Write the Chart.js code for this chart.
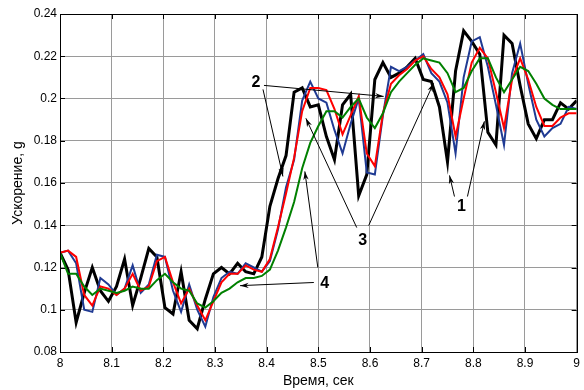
<!DOCTYPE html>
<html>
<head>
<meta charset="utf-8">
<script src="https://cdn.jsdelivr.net/npm/chart.js@4"></script>
<style>
  html, body { margin: 0; padding: 0; background: #fff; }
  #wrap { width: 584px; height: 390px; }
</style>
</head>
<body>
<div id="wrap"><canvas id="accelChart" width="584" height="390"></canvas></div>
<script>
// sampling: 64 Hz, from 8 to 9 s
const startTime = 8;
const sampleRate = 64;

const curve1 = [0.127, 0.119, 0.094, 0.108, 0.120, 0.109, 0.104, 0.111, 0.124, 0.102, 0.115, 0.129, 0.125,
  0.101, 0.098, 0.118, 0.095, 0.091, 0.105, 0.117, 0.120, 0.117, 0.122, 0.118, 0.117, 0.125, 0.149, 0.162,
  0.173, 0.203, 0.205, 0.196, 0.197, 0.182, 0.171, 0.197, 0.202, 0.154, 0.164, 0.209, 0.217, 0.210, 0.212,
  0.215, 0.219, 0.209, 0.208, 0.196, 0.170, 0.213, 0.232, 0.227, 0.221, 0.184, 0.178, 0.230, 0.226, 0.206,
  0.188, 0.181, 0.190, 0.190, 0.198, 0.195, 0.199];

const curveBlue = [0.127, 0.128, 0.122, 0.100, 0.099, 0.115, 0.112, 0.107, 0.110, 0.121, 0.108, 0.112, 0.126,
  0.125, 0.109, 0.099, 0.112, 0.100, 0.092, 0.106, 0.115, 0.118, 0.117, 0.122, 0.120, 0.118, 0.123, 0.138,
  0.158, 0.171, 0.199, 0.208, 0.200, 0.198, 0.185, 0.174, 0.188, 0.200, 0.165, 0.164, 0.192, 0.215, 0.213,
  0.215, 0.218, 0.221, 0.212, 0.208, 0.198, 0.174, 0.210, 0.227, 0.229, 0.215, 0.197, 0.178, 0.212, 0.226,
  0.207, 0.190, 0.182, 0.186, 0.188, 0.196, 0.195];

const curveRed = [0.127, 0.128, 0.125, 0.107, 0.102, 0.111, 0.110, 0.107, 0.110, 0.117, 0.109, 0.111, 0.123,
  0.125, 0.113, 0.103, 0.110, 0.102, 0.095, 0.104, 0.113, 0.117, 0.117, 0.121, 0.119, 0.118, 0.124, 0.139,
  0.155, 0.172, 0.194, 0.205, 0.205, 0.204, 0.195, 0.183, 0.192, 0.201, 0.174, 0.168, 0.193, 0.207, 0.211,
  0.214, 0.218, 0.220, 0.214, 0.210, 0.202, 0.182, 0.200, 0.217, 0.224, 0.219, 0.203, 0.186, 0.209, 0.219,
  0.209, 0.196, 0.187, 0.187, 0.191, 0.193, 0.193];

const curveGreen = [0.127, 0.117, 0.117, 0.111, 0.107, 0.110, 0.109, 0.108, 0.109, 0.111, 0.110, 0.110, 0.114,
  0.117, 0.113, 0.110, 0.109, 0.103, 0.101, 0.104, 0.108, 0.110, 0.113, 0.115, 0.115, 0.116, 0.119, 0.128,
  0.139, 0.151, 0.167, 0.179, 0.187, 0.194, 0.194, 0.191, 0.196, 0.200, 0.191, 0.186, 0.193, 0.203, 0.208,
  0.212, 0.216, 0.219, 0.218, 0.217, 0.212, 0.203, 0.205, 0.213, 0.219, 0.219, 0.210, 0.203, 0.209, 0.215,
  0.213, 0.207, 0.200, 0.197, 0.195, 0.195, 0.195];

const xTicks = [8, 8.1, 8.2, 8.3, 8.4, 8.5, 8.6, 8.7, 8.8, 8.9, 9];
const yTicks = [0.08, 0.1, 0.12, 0.14, 0.16, 0.18, 0.2, 0.22, 0.24];

// numbered callouts: label position and arrows (tail -> head), in data units
const callouts = [
  { text: '1', at: [8.777, 0.1489], arrows: [[8.7635, 0.1536, 8.7539, 0.1636], [8.7886, 0.1536, 8.8214, 0.1892]] },
  { text: '2', at: [8.3793, 0.2076], arrows: [[8.3948, 0.2062, 8.6264, 0.2010], [8.3929, 0.2043, 8.4315, 0.1631]] },
  { text: '3', at: [8.5859, 0.1327], arrows: [[8.5743, 0.1389, 8.4759, 0.1906], [8.5975, 0.1399, 8.7230, 0.2072]] },
  { text: '4', at: [8.5125, 0.1124], arrows: [[8.4913, 0.1129, 8.3485, 0.1114], [8.4990, 0.1200, 8.4739, 0.1655]] }
];

const toPoints = (vals) => vals.map((v, i) => ({ x: startTime + i / sampleRate, y: v }));

const lineSet = (vals, color, width) => ({
  data: toPoints(vals),
  borderColor: color,
  borderWidth: width,
  pointRadius: 0,
  tension: 0,
  fill: false
});

const frameAndCallouts = {
  id: 'frameAndCallouts',
  afterDatasetsDraw(chart) {
    const { ctx, chartArea: a, scales } = chart;
    const xs = scales.x, ys = scales.y;
    ctx.save();
    // box + inward ticks
    ctx.strokeStyle = '#000';
    ctx.lineWidth = 1;
    ctx.strokeRect(Math.round(a.left) + 0.5, Math.round(a.top) + 0.5,
      Math.round(a.right - a.left), Math.round(a.bottom - a.top));
    ctx.beginPath();
    xTicks.forEach(t => {
      const px = Math.round(xs.getPixelForValue(t)) + 0.5;
      ctx.moveTo(px, a.bottom); ctx.lineTo(px, a.bottom - 5);
      ctx.moveTo(px, a.top); ctx.lineTo(px, a.top + 5);
    });
    yTicks.forEach(t => {
      const py = Math.round(ys.getPixelForValue(t)) + 0.5;
      ctx.moveTo(a.left, py); ctx.lineTo(a.left + 5, py);
      ctx.moveTo(a.right, py); ctx.lineTo(a.right - 5, py);
    });
    ctx.stroke();

    // callouts
    ctx.font = 'bold 16px "Liberation Sans", Arial, sans-serif';
    ctx.textAlign = 'center';
    ctx.textBaseline = 'middle';
    ctx.fillStyle = '#000';
    callouts.forEach(c => {
      ctx.fillText(c.text, xs.getPixelForValue(c.at[0]), ys.getPixelForValue(c.at[1]));
      c.arrows.forEach(([x0, y0, x1, y1]) => {
        const ax = xs.getPixelForValue(x0), ay = ys.getPixelForValue(y0);
        const bx = xs.getPixelForValue(x1), by = ys.getPixelForValue(y1);
        const ang = Math.atan2(by - ay, bx - ax);
        ctx.beginPath();
        ctx.moveTo(ax, ay);
        ctx.lineTo(bx, by);
        ctx.stroke();
        ctx.beginPath();
        ctx.moveTo(bx, by);
        ctx.lineTo(bx - 9 * Math.cos(ang - 0.3), by - 9 * Math.sin(ang - 0.3));
        ctx.lineTo(bx - 6 * Math.cos(ang), by - 6 * Math.sin(ang));
        ctx.lineTo(bx - 9 * Math.cos(ang + 0.3), by - 9 * Math.sin(ang + 0.3));
        ctx.closePath();
        ctx.fill();
      });
    });
    ctx.restore();
  }
};

const fontFamily = '"Liberation Sans", Arial, sans-serif';

new Chart(document.getElementById('accelChart'), {
  type: 'line',
  data: {
    datasets: [
      lineSet(curveGreen, '#008000', 2),
      lineSet(curveRed, '#ff0000', 2),
      lineSet(curveBlue, '#1f3a93', 2),
      lineSet(curve1, '#000000', 3)
    ]
  },
  options: {
    responsive: false,
    animation: false,
    layout: { padding: { left: 0, right: 6, top: 14, bottom: 0 } },
    plugins: { legend: { display: false }, tooltip: { enabled: false } },
    scales: {
      x: {
        type: 'linear',
        min: 8,
        max: 9,
        afterBuildTicks: (s) => { s.ticks = xTicks.map(v => ({ value: v })); },
        afterFit: (s) => { s.height = 38; },
        ticks: {
          color: '#000',
          font: { family: fontFamily, size: 12 },
          padding: 4,
          maxRotation: 0,
          callback: (v) => String(+v.toFixed(1))
        },
        grid: { color: '#9a9a9a', lineWidth: 1, drawTicks: false },
        border: { display: false },
        title: {
          display: true,
          text: 'Время, сек',
          color: '#000',
          font: { family: fontFamily, size: 14 },
          padding: { top: 0, bottom: 0 }
        }
      },
      y: {
        min: 0.08,
        max: 0.24,
        afterBuildTicks: (s) => { s.ticks = yTicks.map(v => ({ value: v })); },
        afterFit: (s) => { s.width = 60; },
        ticks: {
          color: '#000',
          font: { family: fontFamily, size: 12 },
          padding: 3,
          callback: (v) => String(+v.toFixed(2))
        },
        grid: { color: '#9a9a9a', lineWidth: 1, drawTicks: false },
        border: { display: false },
        title: {
          display: true,
          text: 'Ускорение, g',
          color: '#000',
          font: { family: fontFamily, size: 14 },
          padding: { top: 10, bottom: 0 }
        }
      }
    }
  },
  plugins: [frameAndCallouts]
});
</script>
</body>
</html>
